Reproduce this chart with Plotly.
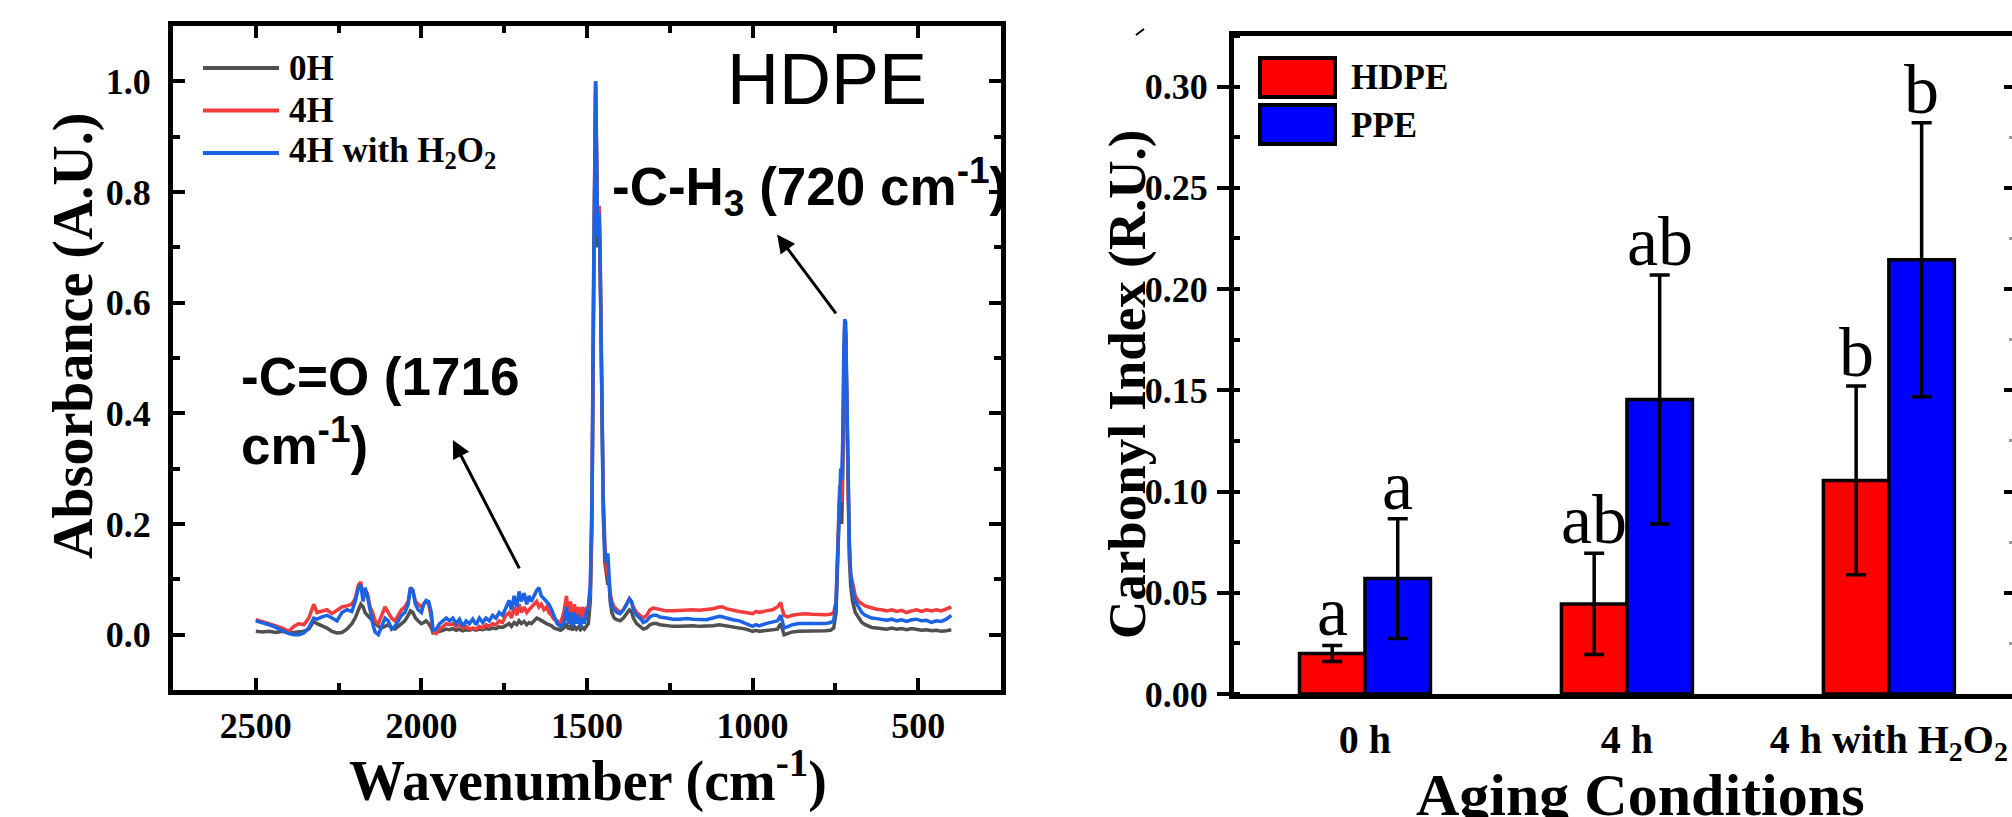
import plotly.graph_objects as go

W, H = 2012, 817


def px(x):
    return x / W


def py(y):
    return 1 - y / H


# ---------------- FTIR spectra (HDPE) ----------------
wavenumber = [
    2500, 2480, 2460, 2440, 2420, 2400, 2385, 2370, 2355, 2340, 2325, 2315, 2300, 2285, 2270,
    2255, 2240, 2225, 2210, 2200, 2190, 2183, 2176, 2170, 2163, 2155, 2147, 2140, 2130, 2120,
    2110, 2100, 2090, 2080, 2070, 2060, 2050, 2040, 2033, 2026, 2018, 2010, 2000, 1993, 1986,
    1978, 1970, 1965, 1955, 1945, 1935, 1925, 1915, 1905, 1895, 1885, 1875, 1865, 1855, 1845,
    1835, 1825, 1815, 1805, 1795, 1785, 1775, 1765, 1755, 1745, 1735, 1728, 1720, 1712, 1705,
    1698, 1690, 1682, 1675, 1668, 1660, 1652, 1645, 1638, 1630, 1622, 1615, 1607, 1600, 1590,
    1580, 1570, 1562, 1556, 1550, 1544, 1538, 1532, 1526, 1520, 1514, 1508, 1502, 1496, 1490,
    1485, 1480, 1476, 1474, 1471, 1468, 1465, 1463, 1460, 1456, 1451, 1446, 1441, 1437, 1434,
    1430, 1425, 1418, 1410, 1400, 1390, 1380, 1372, 1366, 1360, 1350, 1340, 1330, 1320, 1310,
    1300, 1290, 1280, 1260, 1240, 1220, 1200, 1180, 1160, 1140, 1120, 1100, 1090, 1080, 1060,
    1040, 1020, 1000, 990, 980, 960, 940, 925, 915, 910, 905, 895, 880, 860, 840,
    820, 800, 780, 765, 755, 748, 742, 737, 734, 731, 728, 725, 722, 719, 716,
    712, 708, 704, 698, 690, 680, 670, 660, 650, 640, 625, 610, 595, 580, 565,
    550, 535, 520, 505, 490, 475, 460, 445, 430, 415, 400,
]

abs_0h = [
    0.006, 0.005, 0.006, 0.004, 0.006, 0.003, 0.004, 0.005, 0.006, 0.010, 0.024, 0.020, 0.016, 0.012, 0.006,
    0.003, 0.004, 0.010, 0.020, 0.030, 0.045, 0.055, 0.050, 0.040, 0.035, 0.030, 0.025, 0.020, 0.015, 0.012,
    0.015, 0.018, 0.012, 0.010, 0.015, 0.020, 0.025, 0.035, 0.043, 0.040, 0.030, 0.025, 0.020, 0.022, 0.025,
    0.020, 0.012, 0.003, 0.004, 0.006, 0.008, 0.010, 0.009, 0.011, 0.008, 0.010, 0.007, 0.009, 0.008, 0.010,
    0.008, 0.010, 0.009, 0.011, 0.010, 0.012, 0.011, 0.014, 0.013, 0.016, 0.020, 0.015, 0.022, 0.018, 0.025,
    0.020, 0.024, 0.018, 0.022, 0.020, 0.025, 0.030, 0.028, 0.025, 0.022, 0.020, 0.018, 0.016, 0.012, 0.010,
    0.008, 0.012, 0.020, 0.010, 0.015, 0.008, 0.015, 0.010, 0.014, 0.009, 0.013, 0.010, 0.015, 0.020, 0.060,
    0.200, 0.600, 0.950, 0.990, 0.850, 0.700, 0.740, 0.750, 0.650, 0.420, 0.220, 0.130, 0.100, 0.090, 0.100,
    0.060, 0.040, 0.030, 0.027, 0.025, 0.030, 0.040, 0.045, 0.042, 0.030, 0.020, 0.015, 0.010, 0.012, 0.018,
    0.020, 0.020, 0.018, 0.016, 0.015, 0.015, 0.016, 0.016, 0.015, 0.015, 0.016, 0.018, 0.017, 0.015, 0.013,
    0.012, 0.010, 0.006, 0.008, 0.006, 0.007, 0.008, 0.010, 0.020, 0.012, 0.000, 0.002, 0.005, 0.006, 0.006,
    0.007, 0.006, 0.007, 0.008, 0.012, 0.040, 0.150, 0.250, 0.210, 0.200, 0.280, 0.450, 0.550, 0.540, 0.400,
    0.250, 0.140, 0.090, 0.060, 0.040, 0.030, 0.022, 0.018, 0.015, 0.013, 0.012, 0.011, 0.010, 0.012, 0.010,
    0.011, 0.009, 0.011, 0.010, 0.008, 0.009, 0.007, 0.008, 0.006, 0.007, 0.009,
]

abs_4h = [
    0.027, 0.024, 0.020, 0.016, 0.012, 0.006, 0.015, 0.020, 0.018, 0.030, 0.055, 0.040, 0.042, 0.045, 0.038,
    0.045, 0.050, 0.052, 0.055, 0.065, 0.090, 0.095, 0.070, 0.080, 0.075, 0.050, 0.040, 0.025, 0.020, 0.035,
    0.050, 0.040, 0.030, 0.025, 0.035, 0.045, 0.050, 0.060, 0.085, 0.080, 0.060, 0.055, 0.050, 0.055, 0.060,
    0.055, 0.030, 0.005, 0.002, 0.010, 0.015, 0.020, 0.018, 0.020, 0.015, 0.018, 0.012, 0.015, 0.010, 0.012,
    0.010, 0.015, 0.012, 0.018, 0.015, 0.020, 0.018, 0.025, 0.022, 0.035, 0.040, 0.030, 0.050, 0.035, 0.055,
    0.040, 0.050, 0.040, 0.045, 0.050, 0.055, 0.060, 0.050, 0.055, 0.045, 0.050, 0.040, 0.035, 0.028, 0.025,
    0.020, 0.040, 0.070, 0.030, 0.060, 0.025, 0.055, 0.030, 0.050, 0.025, 0.050, 0.030, 0.050, 0.045, 0.080,
    0.220, 0.620, 0.970, 1.000, 0.880, 0.720, 0.760, 0.775, 0.680, 0.450, 0.250, 0.160, 0.120, 0.110, 0.100,
    0.075, 0.060, 0.050, 0.045, 0.040, 0.045, 0.055, 0.065, 0.060, 0.050, 0.040, 0.035, 0.030, 0.035, 0.045,
    0.048, 0.047, 0.045, 0.043, 0.043, 0.044, 0.045, 0.045, 0.044, 0.045, 0.047, 0.050, 0.050, 0.047, 0.044,
    0.042, 0.040, 0.038, 0.042, 0.040, 0.043, 0.045, 0.050, 0.058, 0.045, 0.035, 0.032, 0.035, 0.037, 0.038,
    0.037, 0.036, 0.036, 0.037, 0.040, 0.060, 0.160, 0.270, 0.260, 0.240, 0.320, 0.480, 0.560, 0.550, 0.420,
    0.270, 0.160, 0.110, 0.090, 0.070, 0.060, 0.055, 0.052, 0.050, 0.048, 0.046, 0.045, 0.043, 0.045, 0.042,
    0.044, 0.040, 0.043, 0.045, 0.042, 0.045, 0.043, 0.045, 0.043, 0.046, 0.050,
]

abs_4h_h2o2 = [
    0.025, 0.022, 0.018, 0.013, 0.008, 0.002, 0.000, 0.000, 0.003, 0.012, 0.030, 0.028, 0.032, 0.035, 0.030,
    0.025, 0.040, 0.045, 0.042, 0.060, 0.085, 0.090, 0.060, 0.085, 0.070, 0.040, 0.020, 0.005, 0.000, 0.015,
    0.030, 0.025, 0.010, 0.015, 0.025, 0.035, 0.040, 0.055, 0.085, 0.080, 0.055, 0.045, 0.040, 0.055, 0.062,
    0.060, 0.040, 0.008, 0.010, 0.020, 0.025, 0.030, 0.025, 0.030, 0.020, 0.028, 0.015, 0.025, 0.020, 0.028,
    0.018, 0.030, 0.022, 0.030, 0.025, 0.035, 0.030, 0.040, 0.035, 0.050, 0.062, 0.045, 0.070, 0.050, 0.078,
    0.060, 0.075, 0.055, 0.070, 0.060, 0.072, 0.080, 0.085, 0.070, 0.065, 0.060, 0.055, 0.045, 0.035, 0.020,
    0.015, 0.020, 0.050, 0.020, 0.040, 0.015, 0.040, 0.020, 0.035, 0.015, 0.030, 0.020, 0.040, 0.050, 0.090,
    0.250, 0.650, 0.990, 1.000, 0.860, 0.720, 0.750, 0.760, 0.660, 0.440, 0.240, 0.150, 0.130, 0.147, 0.120,
    0.070, 0.050, 0.045, 0.040, 0.038, 0.045, 0.055, 0.065, 0.060, 0.045, 0.035, 0.030, 0.022, 0.025, 0.032,
    0.035, 0.035, 0.032, 0.030, 0.028, 0.028, 0.029, 0.028, 0.027, 0.027, 0.030, 0.033, 0.032, 0.030, 0.027,
    0.025, 0.020, 0.015, 0.018, 0.016, 0.020, 0.022, 0.025, 0.035, 0.025, 0.012, 0.014, 0.018, 0.020, 0.020,
    0.021, 0.020, 0.020, 0.022, 0.025, 0.060, 0.180, 0.290, 0.300, 0.280, 0.350, 0.500, 0.570, 0.565, 0.440,
    0.280, 0.170, 0.110, 0.080, 0.060, 0.050, 0.040, 0.035, 0.032, 0.030, 0.029, 0.028, 0.026, 0.028, 0.025,
    0.027, 0.024, 0.027, 0.028, 0.025, 0.026, 0.022, 0.025, 0.024, 0.028, 0.035,
]

spectra_names = ["0H", "4H", "4H with H<sub>2</sub>O<sub>2</sub>"]
spectra_colors = ["#505050", "#f23b3b", "#1b63e2"]
spectra_values = [abs_0h, abs_4h, abs_4h_h2o2]

# ---------------- Carbonyl index bars ----------------
conditions = ["0 h", "4 h", "4 h with H<sub>2</sub>O<sub>2</sub>"]
ci_hdpe = [0.020, 0.0445, 0.1055]
ci_hdpe_err = [0.004, 0.025, 0.0466]
ci_ppe = [0.057, 0.1455, 0.2145]
ci_ppe_err = [0.0296, 0.0615, 0.0677]
hdpe_letters = ["a", "ab", "b"]
ppe_letters = ["a", "ab", "b"]
bar_names = ["HDPE", "PPE"]
bar_colors = ["#ff0000", "#0000ff"]

SERIF = "Liberation Serif"
SANS = "Liberation Sans"

fig = go.Figure()

for name, color, vals in zip(spectra_names, spectra_colors, spectra_values):
    fig.add_trace(go.Scatter(
        x=wavenumber, y=vals, mode="lines", name=name,
        line=dict(color=color, width=3.5),
        xaxis="x", yaxis="y", showlegend=False,
    ))

x_pos = list(range(len(conditions)))
for name, color, vals, errs in zip(bar_names, bar_colors, [ci_hdpe, ci_ppe], [ci_hdpe_err, ci_ppe_err]):
    fig.add_trace(go.Bar(
        x=x_pos, y=vals, name=name,
        marker=dict(color=color, line=dict(color="black", width=3.5)),
        error_y=dict(type="data", array=errs, visible=True, color="black",
                     thickness=3.5, width=10),
        xaxis="x2", yaxis="y2", showlegend=False,
    ))

# carrier for the right-hand tick column
fig.add_trace(go.Scatter(x=[None], y=[None], xaxis="x2", yaxis="y3",
                         showlegend=False, hoverinfo="skip"))

tick_bold = dict(family=SERIF, size=36, color="black", weight="bold")

fig.update_layout(
    width=W, height=H,
    margin=dict(l=0, r=0, t=0, b=0),
    paper_bgcolor="white", plot_bgcolor="white",
    template="none",
    barmode="group", bargap=0.5, bargroupgap=0,
    showlegend=False,
    xaxis=dict(
        domain=[px(173), px(1001)], anchor="y",
        range=[2750, 250], dtick=500, tick0=0,
        showline=True, linecolor="black", linewidth=5, mirror="ticks",
        ticks="inside", ticklen=12, tickwidth=4, tickcolor="black",
        minor=dict(dtick=250, tick0=0, ticks="inside", ticklen=7, tickwidth=4, tickcolor="black"),
        showgrid=False, zeroline=False, tickfont=tick_bold,
        ticklabelstandoff=0, automargin=False,
    ),
    yaxis=dict(
        domain=[py(690), py(26)], anchor="x",
        range=[-0.1, 1.1], dtick=0.2, tick0=0, tickformat=".1f",
        showline=True, linecolor="black", linewidth=5, mirror="ticks",
        ticks="inside", ticklen=12, tickwidth=4, tickcolor="black",
        minor=dict(dtick=0.1, tick0=0, ticks="inside", ticklen=7, tickwidth=4, tickcolor="black"),
        showgrid=False, zeroline=False, tickfont=tick_bold,
        ticklabelstandoff=10, automargin=False,
    ),
    xaxis2=dict(
        domain=[px(1234), 1], anchor="y2",
        range=[-0.5, 2.47], tickvals=x_pos, ticktext=conditions,
        showline=True, linecolor="black", linewidth=5, mirror=True,
        ticks="", showgrid=False, zeroline=False,
        tickfont=dict(family=SERIF, size=40, color="black", weight="bold"),
        ticklabelstandoff=6, automargin=False,
    ),
    yaxis2=dict(
        domain=[py(694), py(36)], anchor="x2",
        range=[0, 0.325], dtick=0.05, tick0=0, tickformat=".2f",
        showline=True, linecolor="black", linewidth=5, mirror=False,
        ticks="outside", ticklen=12, tickwidth=4, tickcolor="black",
        minor=dict(dtick=0.025, tick0=0, ticks="inside", ticklen=6, tickwidth=4, tickcolor="black"),
        showgrid=False, zeroline=False, tickfont=tick_bold,
        ticklabelstandoff=2, automargin=False,
    ),
    yaxis3=dict(
        overlaying="y2", anchor="free", position=1, side="right",
        range=[0, 0.325], dtick=0.05, tick0=0,
        showline=False, showticklabels=False,
        ticks="inside", ticklen=8, tickwidth=4, tickcolor="black",
        minor=dict(dtick=0.025, tick0=0, ticks="inside", ticklen=3, tickwidth=3, tickcolor="#999999"),
        showgrid=False, zeroline=False, automargin=False,
    ),
)

annotations = []
shapes = []

# axis titles
annotations += [
    dict(text="<b>Wavenumber (cm<sup>-1</sup>)</b>", x=px(588), y=py(777), xref="paper", yref="paper",
         showarrow=False, xanchor="center", yanchor="middle",
         font=dict(family=SERIF, size=56, color="black")),
    dict(text="<b>Absorbance (A.U.)</b>", x=px(74), y=py(336), xref="paper", yref="paper",
         showarrow=False, xanchor="center", yanchor="middle", textangle=-90,
         font=dict(family=SERIF, size=56, color="black")),
    dict(text="<b>Carbonyl Index (R.U.)</b>", x=px(1127), y=py(385), xref="paper", yref="paper",
         showarrow=False, xanchor="center", yanchor="middle", textangle=-90,
         font=dict(family=SERIF, size=53, color="black")),
    dict(text="<b>Aging Conditions</b>", x=px(1640), y=py(795), xref="paper", yref="paper",
         showarrow=False, xanchor="center", yanchor="middle",
         font=dict(family=SERIF, size=60, color="black")),
]

# spectrum labels and arrows
annotations += [
    dict(text="HDPE", x=775, y=1.005, xref="x", yref="y", showarrow=False,
         xanchor="center", yanchor="middle", font=dict(family=SANS, size=72, color="black")),
    dict(text="<b>-C=O (1716<br>cm<sup>-1</sup>)</b>", x=2552, y=0.405, xref="x", yref="y",
         showarrow=False, xanchor="left", yanchor="middle", align="left",
         font=dict(family=SANS, size=53, color="black")),
    dict(text="<b>-C-H<sub>3</sub> (720 cm<sup>-1</sup>)</b>", x=1432, y=0.81, xref="x", yref="y",
         showarrow=False, xanchor="left", yanchor="middle",
         font=dict(family=SANS, size=53, color="black")),
    dict(text="", x=1905, y=0.352, ax=1702, ay=0.117, xref="x", yref="y", axref="x", ayref="y",
         showarrow=True, arrowhead=2, arrowsize=1.2, arrowwidth=3, arrowcolor="black"),
    dict(text="", x=926, y=0.723, ax=745, ay=0.578, xref="x", yref="y", axref="x", ayref="y",
         showarrow=True, arrowhead=2, arrowsize=1.2, arrowwidth=3, arrowcolor="black"),
]

# spectra legend
for i, (name, color) in enumerate(zip(spectra_names, spectra_colors)):
    yy = py(68 + 42.5 * i)
    shapes.append(dict(type="line", xref="paper", yref="paper", x0=px(203), x1=px(279),
                       y0=yy, y1=yy, line=dict(color=color, width=4)))
    annotations.append(dict(text="<b>%s</b>" % name, x=px(287), y=yy, xref="paper", yref="paper",
                            showarrow=False, xanchor="left", yanchor="middle",
                            font=dict(family=SERIF, size=35, color="black")))

# bar legend
for i, (name, color) in enumerate(zip(bar_names, bar_colors)):
    top = 58 + 47 * i
    shapes.append(dict(type="rect", xref="paper", yref="paper", x0=px(1260), x1=px(1335),
                       y0=py(top + 39), y1=py(top), fillcolor=color,
                       line=dict(color="black", width=4)))
    annotations.append(dict(text="<b>%s</b>" % name, x=px(1349), y=py(top + 20), xref="paper",
                            yref="paper", showarrow=False, xanchor="left", yanchor="middle",
                            font=dict(family=SERIF, size=35, color="black")))

# significance letters above error bars
for offset, vals, errs, letters in [(-0.125, ci_hdpe, ci_hdpe_err, hdpe_letters),
                                    (0.125, ci_ppe, ci_ppe_err, ppe_letters)]:
    for xi, v, e, t in zip(x_pos, vals, errs, letters):
        annotations.append(dict(text=t, x=xi + offset, y=v + e, xref="x2", yref="y2",
                                showarrow=False, xanchor="center", yanchor="bottom", yshift=-7,
                                font=dict(family=SERIF, size=70, color="black")))

# small stroke near the top of the right panel
shapes.append(dict(type="line", xref="paper", yref="paper", x0=px(1136), x1=px(1144),
                   y0=py(35), y1=py(29), line=dict(color="black", width=2)))

fig.update_layout(annotations=annotations, shapes=shapes)

fig.write_html("out.html")
